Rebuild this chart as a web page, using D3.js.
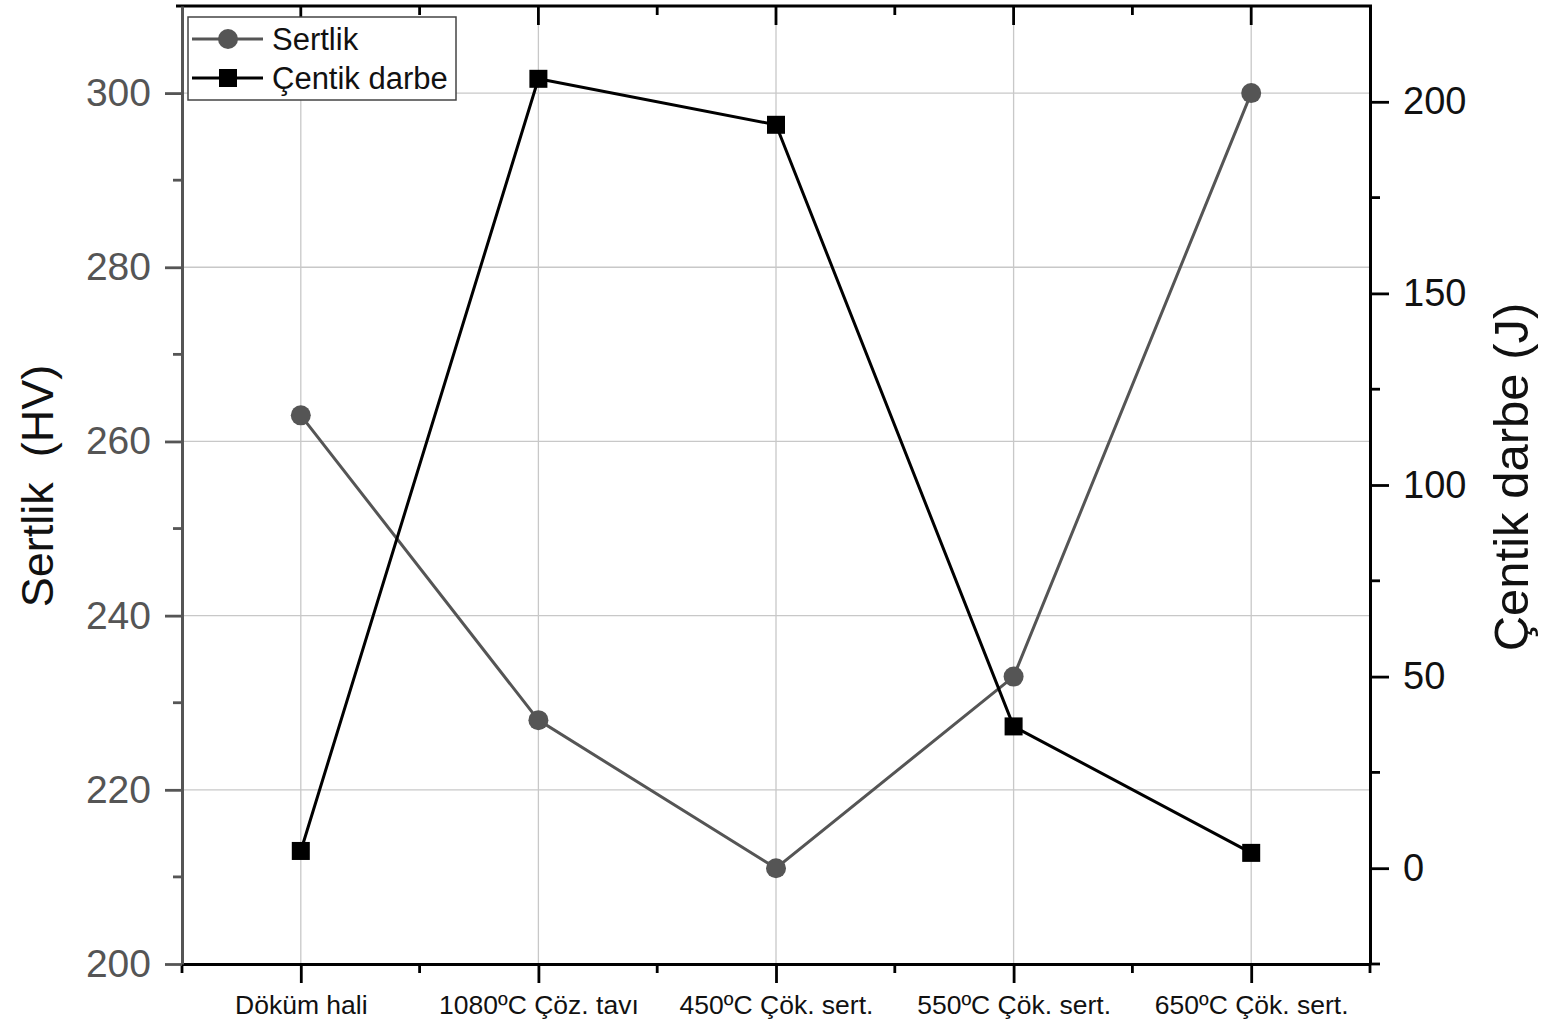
<!DOCTYPE html>
<html lang="tr">
<head>
<meta charset="UTF-8">
<title>Sertlik / Çentik darbe</title>
<script src="https://cdn.jsdelivr.net/npm/d3@7"></script>
<style>
  body { margin: 0; background: #fff; }
  text { font-family: "Liberation Sans", Arial, sans-serif; }
</style>
</head>
<body>
<script>
  // data
  const categories = ["Döküm hali", "1080ºC Çöz. tavı", "450ºC Çök. sert.", "550ºC Çök. sert.", "650ºC Çök. sert."];
  const sertlik = [263, 228, 211, 233, 300];
  const centik = [4.5, 206, 194, 37, 4];
  const leftTicks = [200, 220, 240, 260, 280, 300];
  const rightTicks = [0, 50, 100, 150, 200];

  const w = 1545, h = 1025;
  const plotL = 182, plotR = 1370, plotT = 6, plotB = 964;
  const grey = "#555";

  const svg = d3.select("body").append("svg")
      .attr("width", w)
      .attr("height", h);

  const x = d3.scaleLinear().domain([-0.5, categories.length - 0.5]).range([plotL, plotR]);
  const yL = d3.scaleLinear().domain([200, 310]).range([plotB, plotT]);
  const yR = d3.scaleLinear().domain([-25, 225]).range([plotB, plotT]);

  // grid
  svg.append("g").selectAll("line")
     .data(d3.range(categories.length))
     .enter().append("line")
     .attr("x1", d => x(d)).attr("x2", d => x(d))
     .attr("y1", plotT).attr("y2", plotB)
     .attr("stroke", "#c8c8c8").attr("stroke-width", 1.3);

  svg.append("g").selectAll("line")
     .data(leftTicks.slice(1))
     .enter().append("line")
     .attr("x1", plotL).attr("x2", plotR)
     .attr("y1", d => yL(d)).attr("y2", d => yL(d))
     .attr("stroke", "#c8c8c8").attr("stroke-width", 1.3);

  // minor tick helper
  function minor(g, scale, vals, len, dir, horiz, color) {
    g.selectAll(null).data(vals).enter().append("line")
     .attr(horiz ? "x1" : "y1", d => scale(d))
     .attr(horiz ? "x2" : "y2", d => scale(d))
     .attr(horiz ? "y1" : "x1", 0)
     .attr(horiz ? "y2" : "x2", dir * len)
     .attr("stroke", color).attr("stroke-width", 2.8);
  }

  // bottom axis
  const xAxis = d3.axisBottom(x)
      .tickValues(d3.range(categories.length))
      .tickFormat(i => categories[i])
      .tickSize(19).tickSizeOuter(0).tickPadding(12);
  const gx = svg.append("g").attr("transform", `translate(0,${plotB})`).call(xAxis);
  gx.select(".domain").attr("stroke", "#000").attr("stroke-width", 3);
  gx.selectAll(".tick line").attr("stroke", "#000").attr("stroke-width", 2.8);
  gx.selectAll(".tick text").attr("font-size", 26.5).attr("fill", "#111")
    .attr("font-family", "Liberation Sans, Arial, sans-serif");
  minor(gx, x, [-0.5, 0.5, 1.5, 2.5, 3.5, 4.5], 9, 1, true, "#000");

  // top axis (frame, ticks inside)
  const gt = svg.append("g").attr("transform", `translate(0,${plotT})`);
  gt.append("line").attr("x1", plotL - 6).attr("x2", plotR + 2)
    .attr("stroke", "#000").attr("stroke-width", 3);
  minor(gt, x, d3.range(categories.length), 19, 1, true, "#000");
  minor(gt, x, [0.5, 1.5, 2.5, 3.5], 9, 1, true, "#000");

  // left axis
  const yAxisL = d3.axisLeft(yL).tickValues(leftTicks).tickSize(17).tickSizeOuter(0).tickPadding(14);
  const gl = svg.append("g").attr("transform", `translate(${plotL},0)`).call(yAxisL);
  gl.select(".domain").attr("stroke", grey).attr("stroke-width", 3);
  gl.selectAll(".tick line").attr("stroke", grey).attr("stroke-width", 2.8);
  gl.selectAll(".tick text").attr("font-size", 39).attr("fill", grey)
    .attr("font-family", "Liberation Sans, Arial, sans-serif");
  minor(gl, yL, [210, 230, 250, 270, 290], 9, -1, false, grey);

  // right axis
  const yAxisR = d3.axisRight(yR).tickValues(rightTicks).tickSize(19).tickSizeOuter(0).tickPadding(14);
  const gr = svg.append("g").attr("transform", `translate(${plotR},0)`).call(yAxisR);
  gr.select(".domain").attr("stroke", "#000").attr("stroke-width", 3);
  gr.selectAll(".tick line").attr("stroke", "#000").attr("stroke-width", 2.8);
  gr.selectAll(".tick text").attr("font-size", 38).attr("fill", "#111")
    .attr("font-family", "Liberation Sans, Arial, sans-serif");
  minor(gr, yR, [-25, 25, 75, 125, 175], 10, 1, false, "#000");

  // axis titles
  svg.append("text")
     .attr("transform", "translate(53,486) rotate(-90)")
     .attr("text-anchor", "middle")
     .attr("font-size", 45)
     .attr("fill", "#111")
     .attr("xml:space", "preserve")
     .text("Sertlik  (HV)");

  svg.append("text")
     .attr("transform", "translate(1528,477) rotate(-90)")
     .attr("text-anchor", "middle")
     .attr("font-size", 49)
     .attr("fill", "#111")
     .text("Çentik darbe (J)");

  // Sertlik series
  const lineL = d3.line().x((d, i) => x(i)).y(d => yL(d));
  svg.append("path").datum(sertlik)
     .attr("d", lineL).attr("fill", "none")
     .attr("stroke", grey).attr("stroke-width", 3);
  svg.selectAll("circle.s").data(sertlik).enter().append("circle")
     .attr("cx", (d, i) => x(i)).attr("cy", d => yL(d)).attr("r", 10)
     .attr("fill", grey);

  // Çentik series
  const lineR = d3.line().x((d, i) => x(i)).y(d => yR(d));
  svg.append("path").datum(centik)
     .attr("d", lineR).attr("fill", "none")
     .attr("stroke", "#000").attr("stroke-width", 3);
  svg.selectAll("rect.c").data(centik).enter().append("rect")
     .attr("x", (d, i) => x(i) - 9).attr("y", d => yR(d) - 9)
     .attr("width", 18).attr("height", 18)
     .attr("fill", "#000");

  // legend
  const lg = svg.append("g");
  lg.append("rect").attr("x", 188).attr("y", 17).attr("width", 268).attr("height", 83)
    .attr("fill", "#fff").attr("stroke", "#444").attr("stroke-width", 1.5);
  const items = [
    { name: "Sertlik", color: grey, shape: "circle" },
    { name: "Çentik darbe", color: "#000", shape: "square" }
  ];
  items.forEach((it, i) => {
    const cy = 39 + i * 39;
    lg.append("line").attr("x1", 192).attr("x2", 263).attr("y1", cy).attr("y2", cy)
      .attr("stroke", it.color).attr("stroke-width", 3);
    if (it.shape === "circle") {
      lg.append("circle").attr("cx", 228).attr("cy", cy).attr("r", 10).attr("fill", it.color);
    } else {
      lg.append("rect").attr("x", 219).attr("y", cy - 9).attr("width", 18).attr("height", 18).attr("fill", it.color);
    }
    lg.append("text").attr("x", 272).attr("y", cy + 11)
      .attr("font-size", 31).attr("fill", "#111").text(it.name);
  });
</script>
</body>
</html>
